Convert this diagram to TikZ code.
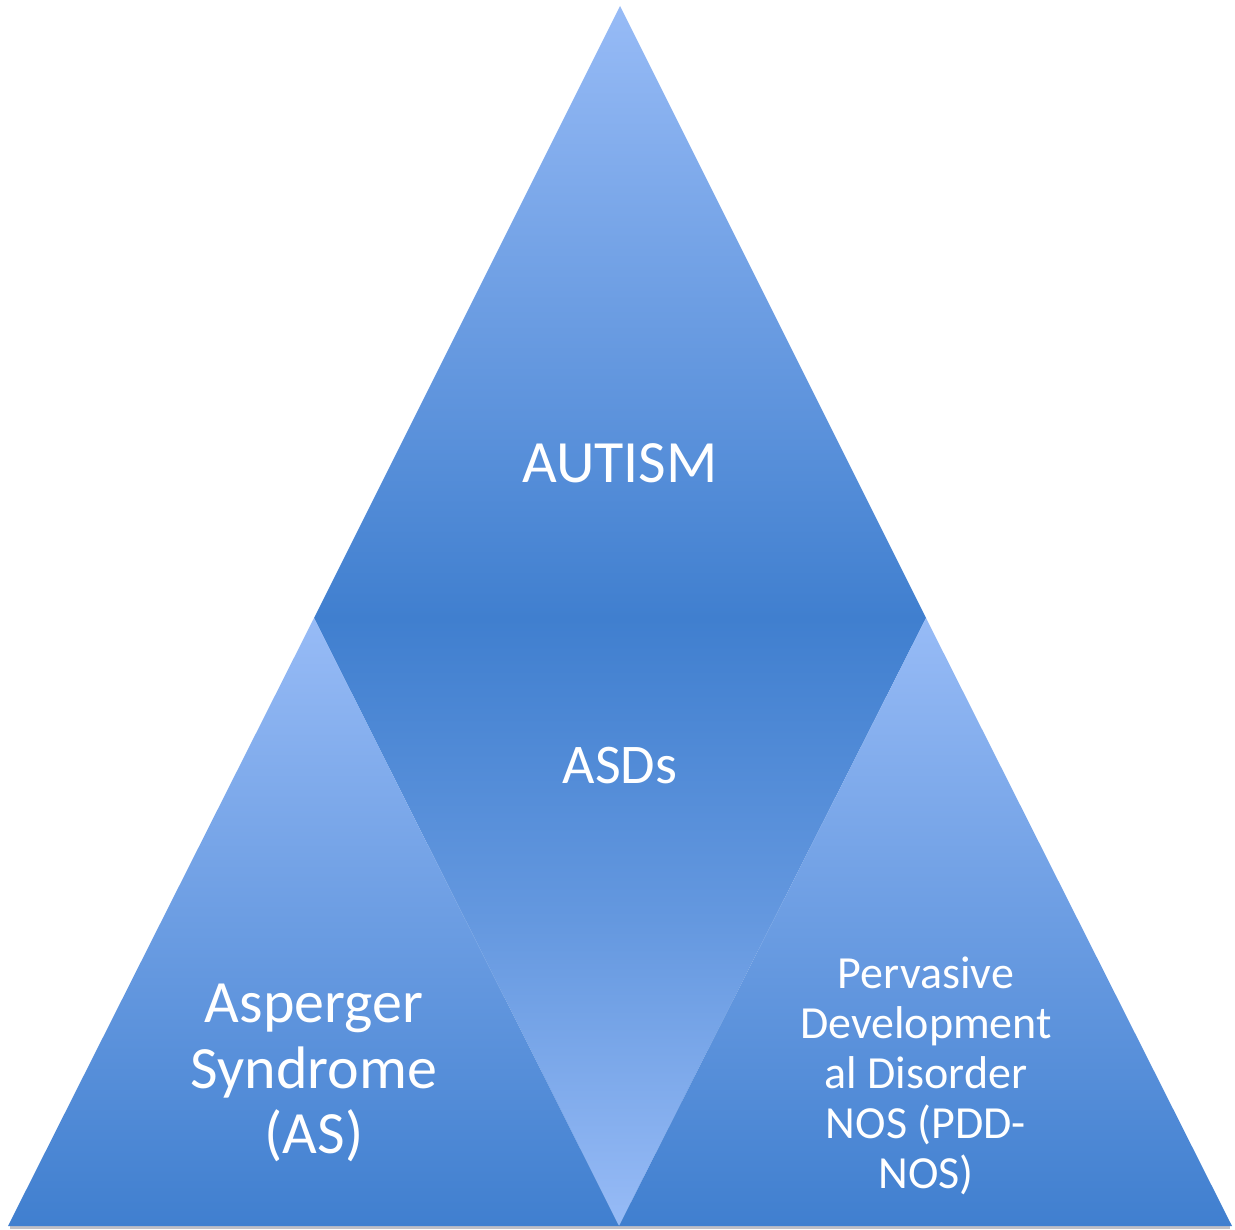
\documentclass[tikz,border=0pt]{standalone}
\usepackage{fontspec}
\setmainfont{Carlito}
\definecolor{lightblue}{RGB}{151,187,246}
\definecolor{darkblue}{RGB}{64,127,207}
\definecolor{edgeshadow}{RGB}{150,150,160}
\tikzset{
  lighttop/.style={top color=lightblue, bottom color=darkblue, draw=none},
  darktop/.style={top color=darkblue, bottom color=lightblue, middle color=darkblue!58!lightblue, draw=none},
  label/.style={text=white, align=center, inner sep=0pt},
}
\begin{document}
\begin{tikzpicture}[x=0.75pt, y=-0.75pt]
\useasboundingbox (0,0) rectangle (1235,1230);
\coordinate (A) at (620,6);
\coordinate (L) at (314,618);
\coordinate (R) at (926,618);
\coordinate (B) at (619,1226);
\coordinate (BL) at (8,1226);
\coordinate (BR) at (1232,1226);
% base shadow
\fill[edgeshadow, opacity=0.6] (10,1225) rectangle (1230,1229);
% top triangle
\shade[lighttop] (A) -- (R) -- (L) -- cycle;
% inverted middle triangle
\shade[darktop] (L) -- (R) -- (B) -- cycle;
% bottom-left triangle
\shade[lighttop] (L) -- (B) -- (BL) -- cycle;
% bottom-right triangle
\shade[lighttop] (R) -- (BR) -- (B) -- cycle;
% labels
\node[label, font=\fontsize{45}{50}\selectfont, anchor=base] (autism) at (620,482) {AUTISM};
\node[label, font=\fontsize{42}{48}\selectfont, anchor=base] (asds) at (620,783) {ASDs};
\node[label, font=\fontsize{45}{49}\selectfont] (as) at (314,1073) {Asperger\\Syndrome\\(AS)};
\node[label, font=\fontsize{34.5}{37.5}\selectfont] (pdd) at (926,1076) {Pervasive\\Development\\al Disorder\\NOS (PDD-\\NOS)};
\end{tikzpicture}
\end{document}
